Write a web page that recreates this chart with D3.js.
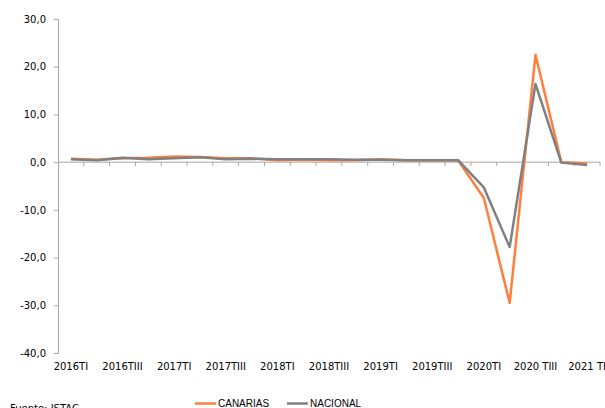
<!DOCTYPE html>
<html><head><meta charset="utf-8">
<script src="https://cdn.jsdelivr.net/npm/d3@7"></script>
<style>body{margin:0;background:#fff;}svg{display:block;}</style>
</head><body>
<svg id="c" width="605" height="408"></svg>
<script>
(function(){
const categories = ["2016TI","2016TII","2016TIII","2016TIV","2017TI","2017TII","2017TIII","2017TIV",
  "2018TI","2018TII","2018TIII","2018TIV","2019TI","2019TII","2019TIII","2019TIV",
  "2020TI","2020TII","2020 TIII","2020TIV","2021 TI"];
const canarias = [0.7,0.5,0.8,0.9,1.2,1.1,0.8,0.8,0.4,0.5,0.4,0.4,0.6,0.4,0.4,0.4,-7.5,-29.5,22.5,0.0,-0.3];
const nacional = [0.6,0.4,0.9,0.6,0.8,1.0,0.6,0.7,0.6,0.6,0.6,0.5,0.5,0.4,0.4,0.4,-5.3,-17.8,16.4,-0.1,-0.6];
const yTicks = [30,20,10,0,-10,-20,-30,-40];
const seriesNames = ["CANARIAS","NACIONAL"];
const colors = ["#ff7f3c","#808080"];
const source = "Fuente: ISTAC";

const svg = d3.select("#c");
const mLeft = 58, mRight = 600, mTop = 19, mBottom = 353;
const x = d3.scaleBand().domain(categories).range([mLeft, mRight]);
const y = d3.scaleLinear().domain([-40, 30]).range([mBottom, mTop]);
const fmt = v => d3.format(".1f")(v).replace(".", ",").replace("\u2212","-");

// y axis
const ya = svg.append("g").attr("transform", `translate(${mLeft},0)`)
  .call(d3.axisLeft(y).tickValues(yTicks).tickSize(4).tickPadding(8).tickFormat(fmt));
ya.select(".domain").attr("stroke", "#a6a6a6");
ya.selectAll(".tick line").attr("stroke", "#a6a6a6");
ya.selectAll("text").attr("font-family", "DejaVu Sans, Verdana, sans-serif").attr("font-size", 10).attr("fill", "#000");

// x axis line at zero with boundary ticks
const zeroY = y(0);
svg.append("line").attr("x1", mLeft).attr("x2", mRight).attr("y1", zeroY).attr("y2", zeroY)
  .attr("stroke", "#a6a6a6").attr("stroke-width", 1);
svg.append("g").selectAll("line").data(categories).join("line")
  .attr("x1", d => x(d) + x.bandwidth()).attr("x2", d => x(d) + x.bandwidth())
  .attr("y1", zeroY).attr("y2", zeroY + 4).attr("stroke", "#a6a6a6");

// x labels (every other category) at bottom
svg.append("g").selectAll("text").data(categories.filter((d, i) => i % 2 === 0)).join("text")
  .attr("x", d => x(d) + x.bandwidth() / 2).attr("y", mBottom + 17)
  .attr("text-anchor", "middle").attr("font-family", "DejaVu Sans, Verdana, sans-serif")
  .attr("font-size", 10).attr("fill", "#000").text(d => d);

// lines
const line = d3.line().x((d, i) => x(categories[i]) + x.bandwidth() / 2).y(d => y(d));
[canarias, nacional].forEach((s, k) => {
  svg.append("path").datum(s).attr("d", line).attr("fill", "none")
    .attr("stroke", colors[k]).attr("stroke-width", 2.5).attr("stroke-linejoin", "round");
});

// legend
const lg = svg.append("g");
const legX = [195, 287];
seriesNames.forEach((n, k) => {
  lg.append("line").attr("x1", legX[k]).attr("x2", legX[k] + 21).attr("y1", 403.5).attr("y2", 403.5)
    .attr("stroke", colors[k]).attr("stroke-width", 2.5);
  lg.append("text").attr("x", legX[k] + 23).attr("y", 407).attr("font-family", "Liberation Sans, Arial, sans-serif")
    .attr("font-size", 10).attr("fill", "#000").text(n);
});

// source
svg.append("text").attr("x", 10).attr("y", 412).attr("font-family", "DejaVu Sans, Verdana, sans-serif")
  .attr("font-size", 10).attr("fill", "#000").text(source);
})();
</script>
</body></html>
